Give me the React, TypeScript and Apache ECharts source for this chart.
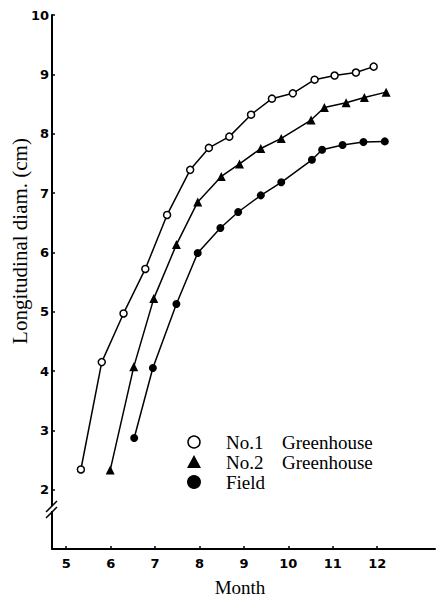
import React, { useEffect, useRef } from "react";
import * as echarts from "echarts";

// Data
const no1X = [5.33, 5.80, 6.29, 6.78, 7.27, 7.79, 8.21, 8.67, 9.16, 9.63, 10.10, 10.59, 11.04, 11.52, 11.92];
const no1Y = [2.34, 4.15, 4.97, 5.72, 6.63, 7.39, 7.76, 7.95, 8.32, 8.59, 8.68, 8.91, 8.98, 9.03, 9.13];

const no2X = [5.99, 6.52, 6.97, 7.48, 7.96, 8.49, 8.90, 9.38, 9.84, 10.51, 10.81, 11.30, 11.71, 12.20];
const no2Y = [2.33, 4.07, 5.22, 6.13, 6.85, 7.28, 7.49, 7.75, 7.92, 8.23, 8.44, 8.52, 8.61, 8.70];

const fieldX = [6.53, 6.95, 7.48, 7.96, 8.47, 8.87, 9.38, 9.84, 10.53, 10.76, 11.22, 11.69, 12.17];
const fieldY = [2.87, 4.05, 5.13, 5.99, 6.41, 6.68, 6.96, 7.18, 7.56, 7.73, 7.81, 7.86, 7.87];

const xTicks = [5, 6, 7, 8, 9, 10, 11, 12];
const yTicks = [2, 3, 4, 5, 6, 7, 8, 9, 10];

const legendLabels = ["No.1", "No.2", "Field"];
const legendSuffix = ["Greenhouse", "Greenhouse", ""];

const zip = (xs: number[], ys: number[]) => xs.map((x, i) => [x, ys[i]]);

const SERIF = "'Liberation Serif', 'Times New Roman', serif";
const SANS = "'DejaVu Sans', 'Liberation Sans', Arial, sans-serif";

export default function App() {
  const ref = useRef<HTMLDivElement>(null);
  useEffect(() => {
    if (!ref.current) return;
    const chart = echarts.init(ref.current, null, { renderer: "svg" });
    const lineStyle = { color: "#000", width: 1.5 };
    const legendY = [442, 462, 482];
    const option: any = {
      animation: false,
      backgroundColor: "#fff",
      grid: { left: 52, right: 1, top: 15, bottom: 49, containLabel: false },
      xAxis: {
        type: "value",
        min: 4.68,
        max: 13.3,
        splitLine: { show: false },
        axisLine: { lineStyle: { color: "#000", width: 2 } },
        axisTick: { inside: true, length: 3, lineStyle: { color: "#000", width: 1.5 }, customValues: xTicks },
        axisLabel: {
          customValues: xTicks,
          color: "#000",
          fontFamily: SANS,
          fontWeight: "bold",
          fontSize: 13,
          margin: 8,
        },
      },
      yAxis: {
        type: "value",
        min: 1,
        max: 10,
        interval: 1,
        splitLine: { show: false },
        axisLine: { lineStyle: { color: "#000", width: 2 } },
        axisTick: { inside: true, length: 3, lineStyle: { color: "#000", width: 1.5 }, customValues: yTicks },
        axisLabel: {
          customValues: yTicks,
          color: "#000",
          fontFamily: SANS,
          fontWeight: "bold",
          fontSize: 13,
          margin: 3,
        },
      },
      series: [
        {
          type: "line",
          data: zip(no1X, no1Y),
          symbol: "circle",
          symbolSize: 7,
          lineStyle,
          itemStyle: { color: "#fff", borderColor: "#000", borderWidth: 1.5 },
          z: 3,
        },
        {
          type: "line",
          data: zip(no2X, no2Y),
          symbol: "triangle",
          symbolSize: 9,
          lineStyle,
          itemStyle: { color: "#000" },
          z: 3,
        },
        {
          type: "line",
          data: zip(fieldX, fieldY),
          symbol: "circle",
          symbolSize: 8,
          lineStyle,
          itemStyle: { color: "#000" },
          z: 3,
        },
      ],
      graphic: [
        {
          type: "text",
          x: 20,
          y: 241,
          rotation: Math.PI / 2,
          style: {
            text: "Longitudinal diam. (cm)",
            fontFamily: SERIF,
            fontSize: 21,
            fill: "#000",
            align: "center",
            verticalAlign: "middle",
          },
        },
        {
          type: "text",
          x: 240,
          y: 587,
          style: {
            text: "Month",
            fontFamily: SERIF,
            fontSize: 19,
            fill: "#000",
            align: "center",
            verticalAlign: "middle",
          },
        },
        // axis break marks
        { type: "rect", shape: { x: 49, y: 506, width: 6, height: 5 }, style: { fill: "#fff" }, z: 9 },
        { type: "line", shape: { x1: 46, y1: 512, x2: 57, y2: 501 }, style: { stroke: "#000", lineWidth: 1.5 }, z: 10 },
        { type: "line", shape: { x1: 46, y1: 518, x2: 57, y2: 507 }, style: { stroke: "#000", lineWidth: 1.5 }, z: 10 },
        // legend markers
        { type: "circle", shape: { cx: 194, cy: legendY[0], r: 6 }, style: { fill: "#fff", stroke: "#000", lineWidth: 1.5 } },
        { type: "polygon", shape: { points: [[194, legendY[1] - 7], [187, legendY[1] + 6], [201, legendY[1] + 6]] }, style: { fill: "#000" } },
        { type: "circle", shape: { cx: 194, cy: legendY[2], r: 7 }, style: { fill: "#000" } },
        ...legendLabels.map((t, i) => ({
          type: "text",
          x: 226,
          y: legendY[i],
          style: { text: t, fontFamily: SERIF, fontSize: 19, fill: "#000", align: "left", verticalAlign: "middle" },
        })),
        ...legendSuffix
          .map((t, i) => ({ t, i }))
          .filter((d) => d.t)
          .map((d) => ({
            type: "text",
            x: 282,
            y: legendY[d.i],
            style: { text: d.t, fontFamily: SERIF, fontSize: 19, fill: "#000", align: "left", verticalAlign: "middle" },
          })),
      ],
    };
    chart.setOption(option);
    return () => chart.dispose();
  }, []);
  return (
    <div
      ref={ref}
      style={{ position: "fixed", left: 0, top: 0, width: 436, height: 598, background: "#fff" }}
    />
  );
}
